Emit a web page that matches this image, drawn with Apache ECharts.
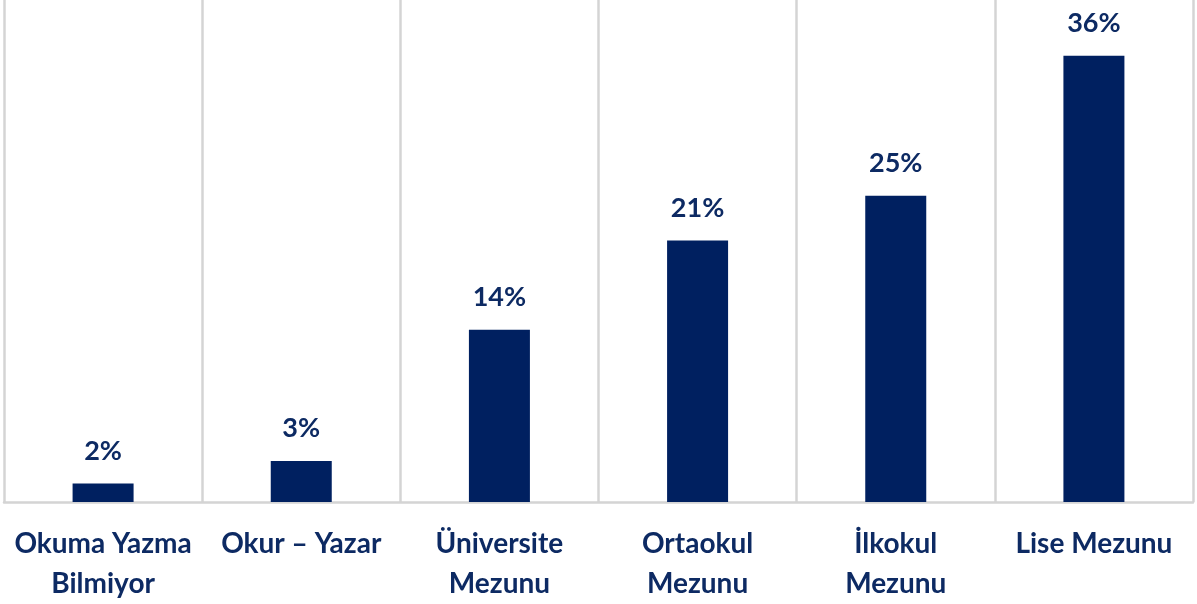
<!DOCTYPE html>
<html>
<head>
<meta charset="utf-8">
<script src="https://cdn.jsdelivr.net/npm/echarts@6/dist/echarts.min.js"></script>
<style>
  html, body { margin: 0; padding: 0; background: #fff; }
  #chart { width: 1197px; height: 604px; }
</style>
</head>
<body>
<div id="chart"></div>
<script>
var categories = ["Okuma Yazma\nBilmiyor", "Okur – Yazar", "Üniversite\nMezunu", "Ortaokul\nMezunu", "İlkokul\nMezunu", "Lise Mezunu"];
var values = [1.5, 3.3, 13.9, 21.1, 24.7, 36.0];

document.addEventListener("DOMContentLoaded", function () {
  var chart = echarts.init(document.getElementById("chart"));

  var option = {
    animation: false,
    grid: { left: 4, right: 4, top: 0, bottom: 101 },
    xAxis: {
      type: "category",
      data: categories,
      axisLine: { lineStyle: { color: "#d4d4d4", width: 2.5 } },
      axisTick: { show: false },
      splitLine: { show: true, lineStyle: { color: "#d4d4d4", width: 2.5 } },
      axisLabel: {
        interval: 0,
        margin: 22,
        color: "#0d2a63",
        fontFamily: "Lato",
        fontWeight: "bold",
        fontSize: 28,
        lineHeight: 40
      }
    },
    yAxis: {
      type: "value",
      min: 0,
      max: 40.5,
      show: false,
      splitLine: { show: false }
    },
    series: [
      {
        type: "bar",
        data: values,
        barWidth: 61,
        itemStyle: { color: "#002060" },
        label: {
          show: true,
          position: "top",
          distance: 19,
          color: "#0d2a63",
          fontFamily: "Lato",
          fontWeight: "bold",
          fontSize: 27,
          formatter: function (p) { return Math.round(p.value) + "%"; }
        }
      }
    ]
  };

  chart.setOption(option);
});
</script>
</body>
</html>
